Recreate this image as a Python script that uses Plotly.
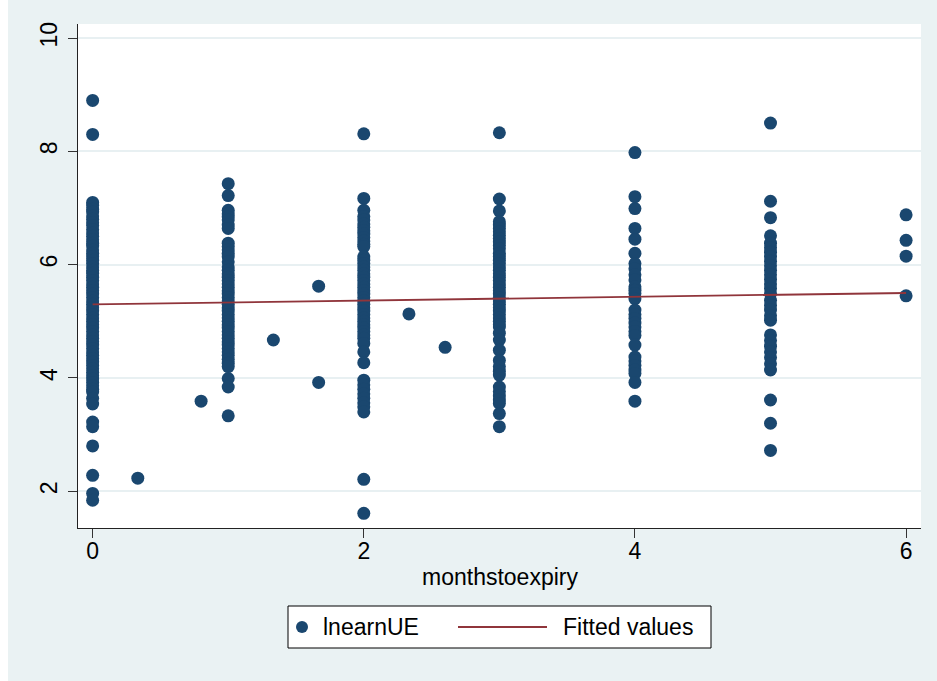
import plotly.graph_objects as go

# ---- data ----
col0_y = [8.90, 8.30, 7.10, 7.05, 6.98, 6.93, 6.86, 6.80, 6.74, 6.69, 6.62, 6.56, 6.50,
          6.44, 6.38, 6.33, 6.26, 6.20, 6.14, 6.08, 6.02, 5.96, 5.90, 5.85, 5.78, 5.72,
          5.66, 5.60, 5.54, 5.48, 5.42, 5.36, 5.30, 5.24, 5.18, 5.12, 5.06, 5.00, 4.94,
          4.88, 4.82, 4.76, 4.70, 4.64, 4.58, 4.52, 4.46, 4.40, 4.34, 4.28, 4.22, 4.16,
          4.10, 4.04, 3.98, 3.92, 3.86, 3.80, 3.75, 3.64, 3.54, 3.22, 3.14, 2.80, 2.28,
          1.96, 1.84]
col1_y = [7.43, 7.22, 6.96, 6.90, 6.84, 6.79, 6.70, 6.64, 6.38, 6.32, 6.26, 6.20, 6.14,
          6.05, 5.96, 5.90, 5.84, 5.78, 5.72, 5.66, 5.60, 5.54, 5.48, 5.42, 5.36, 5.30,
          5.24, 5.18, 5.12, 5.06, 5.00, 4.94, 4.88, 4.82, 4.76, 4.70, 4.64, 4.58, 4.52,
          4.46, 4.40, 4.33, 4.26, 4.20, 3.99, 3.84, 3.33]
col2_y = [8.31, 7.17, 6.96, 6.85, 6.79, 6.72, 6.66, 6.60, 6.54, 6.48, 6.42, 6.36, 6.32,
          6.14, 6.08, 6.02, 5.96, 5.90, 5.84, 5.78, 5.72, 5.66, 5.60, 5.54, 5.48, 5.42,
          5.36, 5.30, 5.24, 5.18, 5.12, 5.06, 5.00, 4.94, 4.88, 4.82, 4.76, 4.70, 4.61,
          4.46, 4.27, 3.96, 3.88, 3.80, 3.72, 3.64, 3.56, 3.49, 3.40, 2.21, 1.61]
col3_y = [8.33, 7.16, 6.95, 6.76, 6.70, 6.64, 6.58, 6.52, 6.46, 6.40, 6.34, 6.28, 6.20,
          6.14, 6.08, 6.02, 5.96, 5.90, 5.84, 5.78, 5.72, 5.66, 5.60, 5.54, 5.48, 5.42,
          5.36, 5.30, 5.24, 5.18, 5.12, 5.06, 5.00, 4.94, 4.90, 4.79, 4.67, 4.49, 4.31,
          4.20, 4.12, 4.05, 3.84, 3.76, 3.68, 3.61, 3.55, 3.37, 3.14]
col4_y = [7.98, 7.20, 6.99, 6.64, 6.45, 6.20, 6.02, 5.93, 5.82, 5.73, 5.61, 5.55, 5.49,
          5.40, 5.20, 5.12, 5.05, 4.97, 4.90, 4.82, 4.75, 4.58, 4.37, 4.30, 4.22, 4.14,
          4.08, 3.92, 3.59]
col5_y = [8.50, 7.12, 6.83, 6.51, 6.38, 6.30, 6.22, 6.14, 6.06, 5.98, 5.90, 5.82, 5.74,
          5.66, 5.58, 5.49, 5.37, 5.28, 5.20, 5.10, 5.02, 4.76, 4.66, 4.56, 4.46, 4.36,
          4.25, 4.14, 3.61, 3.20, 2.72]
col6_y = [6.88, 6.43, 6.15, 5.45]

other_x = [0.333, 0.8, 1.333, 1.667, 1.667, 2.333, 2.6]
other_y = [2.23, 3.59, 4.67, 5.62, 3.92, 5.13, 4.54]

fit_x = [0, 6]
fit_y = [5.30, 5.50]

x_ticks = [0, 2, 4, 6]
y_ticks = [2, 4, 6, 8, 10]

# ---- build scatter arrays ----
columns = [(0, col0_y), (1, col1_y), (2, col2_y), (3, col3_y),
           (4, col4_y), (5, col5_y), (6, col6_y)]
xs, ys = [], []
for cx, cy in columns:
    xs += [cx] * len(cy)
    ys += cy
xs += other_x
ys += other_y

NAVY = "#1A476F"
CRAN = "#90353B"
BG = "#EAF2F3"
GRID = "#E8F0F2"
FONT = "Liberation Sans, Arial, Helvetica, sans-serif"
FS = 23

W, H = 937, 681
L, R, T, B = 78, 16, 24, 153
PW, PH = W - L - R, H - T - B


def px_x(p):
    return (p - L) / PW


def px_y(p):
    return (H - B - p) / PH


fig = go.Figure()
fig.add_trace(go.Scatter(x=xs, y=ys, mode="markers", name="lnearnUE",
                         marker=dict(color=NAVY, size=13, line=dict(width=0)),
                         showlegend=False))
fig.add_trace(go.Scatter(x=fit_x, y=fit_y, mode="lines", name="Fitted values",
                         line=dict(color=CRAN, width=1.8), showlegend=False))

shapes = [
    # thin white strip at far left of the image
    dict(type="rect", xref="paper", yref="paper", x0=px_x(0), x1=px_x(8),
         y0=px_y(H), y1=px_y(0), fillcolor="white", line=dict(width=0), layer="above"),
    # legend box
    dict(type="rect", xref="paper", yref="paper", x0=px_x(288), x1=px_x(711),
         y0=px_y(648), y1=px_y(606), fillcolor="white", line=dict(color="black", width=1)),
    # legend marker
    dict(type="circle", xref="paper", yref="paper", xsizemode="pixel", ysizemode="pixel",
         xanchor=px_x(302), yanchor=px_y(627), x0=-6, x1=6, y0=-6, y1=6,
         fillcolor=NAVY, line=dict(width=0)),
    # legend line
    dict(type="line", xref="paper", yref="paper", x0=px_x(458), x1=px_x(547),
         y0=px_y(627), y1=px_y(627), line=dict(color=CRAN, width=1.8)),
]

annotations = [
    dict(text="monthstoexpiry", xref="paper", yref="paper", x=0.5, y=px_y(577),
         xanchor="center", yanchor="middle", showarrow=False,
         font=dict(family=FONT, size=FS, color="black")),
    dict(text="lnearnUE", xref="paper", yref="paper", x=px_x(321), y=px_y(627),
         xanchor="left", yanchor="middle", showarrow=False,
         font=dict(family=FONT, size=FS, color="black")),
    dict(text="Fitted values", xref="paper", yref="paper", x=px_x(561), y=px_y(627),
         xanchor="left", yanchor="middle", showarrow=False,
         font=dict(family=FONT, size=FS, color="black")),
]

fig.update_layout(
    width=W, height=H,
    margin=dict(l=L, r=R, t=T, b=B, pad=0),
    paper_bgcolor=BG, plot_bgcolor="white",
    font=dict(family=FONT, size=FS, color="black"),
    shapes=shapes, annotations=annotations,
    showlegend=False,
    xaxis=dict(range=[-0.108, 6.11], tickvals=x_ticks, ticks="outside", ticklen=9,
               tickwidth=1.2, tickcolor="#333333", showgrid=False, zeroline=False,
               showline=True, linecolor="#222222", linewidth=1.3, ticklabelstandoff=-7,
               tickfont=dict(family=FONT, size=FS, color="black")),
    yaxis=dict(range=[1.35, 10.25], tickvals=y_ticks, ticks="outside", ticklen=9,
               tickwidth=1.2, tickcolor="#333333", showgrid=True, gridcolor=GRID,
               gridwidth=1.5, zeroline=False, showline=True, linecolor="#222222",
               linewidth=1.3, tickangle=-90, ticklabelstandoff=2,
               tickfont=dict(family=FONT, size=FS, color="black")),
)

fig.write_html("out.html",
               config={"displayModeBar": False},
               post_script="document.body.style.margin='0';document.body.style.overflow='hidden';")
